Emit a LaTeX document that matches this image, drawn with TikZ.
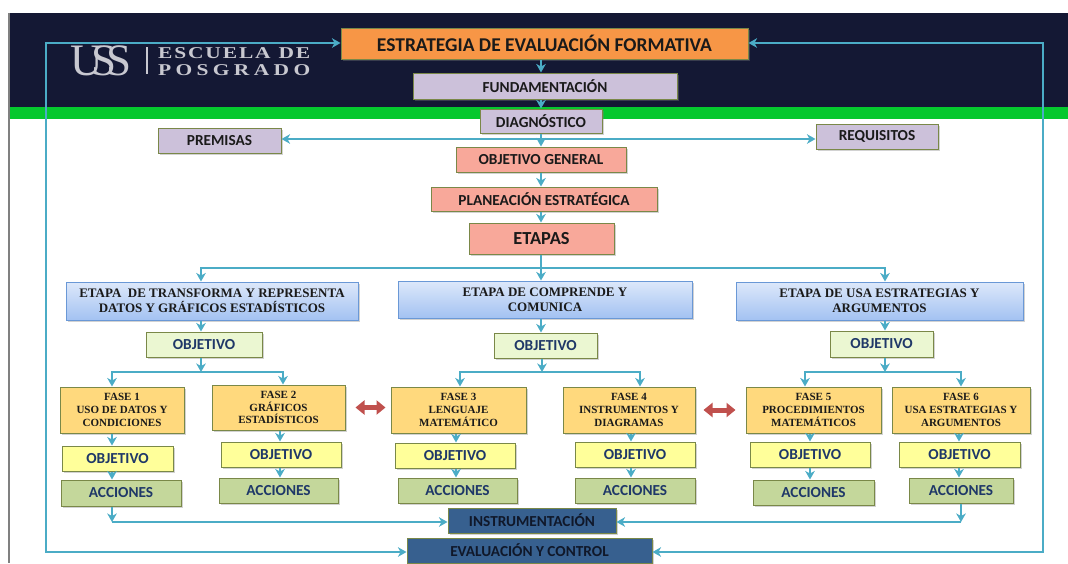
\documentclass[tikz,border=0pt]{standalone}
\usepackage{fontspec}
\setmainfont{Carlito}
\newfontfamily\timesfont{Liberation Serif}
\newfontfamily\logofont[FakeStretch=1.3]{Liberation Serif}
\usetikzlibrary{arrows.meta,shadows}

\definecolor{cNavy}{HTML}{141834}
\definecolor{cVerde}{HTML}{05C82E}
\definecolor{cLogo}{HTML}{C8C8D0}
\definecolor{cFlecha}{HTML}{4BACC6}
\definecolor{cRojo}{HTML}{C0504D}
\definecolor{cBorde}{HTML}{7A8848}
\definecolor{cNaranja}{HTML}{F79646}
\definecolor{cLila}{HTML}{CCC1DA}
\definecolor{cSalmon}{HTML}{F8A89A}
\definecolor{cEtapaTop}{HTML}{DDE8FA}
\definecolor{cEtapaBot}{HTML}{A3C2F2}
\definecolor{cEtapaBorde}{HTML}{6A98D6}
\definecolor{cVerdeClaro}{HTML}{EBF7D2}
\definecolor{cFase}{HTML}{FFD97D}
\definecolor{cAmarillo}{HTML}{FFFF9A}
\definecolor{cAcc}{HTML}{C4D79B}
\definecolor{cCtrl}{HTML}{37608F}
\definecolor{cAzulTexto}{HTML}{1F3868}
\definecolor{cTexto}{HTML}{1A1A1A}
\definecolor{cTextoOsc}{HTML}{10182A}

\newcommand\sansb{\bfseries\fontsize{15.3}{17}\selectfont}
\newcommand\serifb{\timesfont\bfseries\fontsize{13}{15}\selectfont}
\newcommand\faseb{\timesfont\bfseries\fontsize{11}{12.6}\selectfont}
\newcommand\logob{\logofont\bfseries\fontsize{16.5}{16.5}\selectfont}

\begin{document}
\begin{tikzpicture}[
				x=1pt, y=-1pt,
				>={Stealth[length=8.5pt,width=9.5pt,inset=2.5pt]},
				wh/.style 2 args={minimum width=#1pt, minimum height=#2pt},
				logo/.style={anchor=base west, inner sep=0pt, text=cLogo},
				box/.style={draw=cBorde, line width=1pt, inner sep=0pt, align=center, font=\sansb, text=cTexto,
					drop shadow={shadow xshift=1.5pt, shadow yshift=-1.5pt, opacity=.35}},
				naranja/.style={box, fill=cNaranja},
				lila/.style={box, fill=cLila},
				salmon/.style={box, fill=cSalmon},
				etapa/.style={box, draw=cEtapaBorde, top color=cEtapaTop, bottom color=cEtapaBot, font=\serifb},
				obj/.style={box, fill=cVerdeClaro, text=cAzulTexto},
				fase/.style={box, fill=cFase, font=\faseb},
				objf/.style={box, fill=cAmarillo, text=cAzulTexto},
				acc/.style={box, fill=cAcc, text=cAzulTexto},
				ctrl/.style={box, fill=cCtrl, text=cTextoOsc},
				arr/.style={draw=cFlecha, line width=2.4pt, ->},
				arrs/.style={draw=cFlecha, line width=2.4pt, <->},
				dbl/.style={draw=cRojo, line width=5pt, {Triangle[length=9pt,width=14pt]}-{Triangle[length=9pt,width=14pt]}}
				]
			\useasboundingbox (0,0) rectangle (1068,563);
			\fill[white] (0,0) rectangle (1068,563);
			\fill[cNavy] (8,13) rectangle (1068,107);
			\fill[cVerde] (8,107) rectangle (1068,119);
			\draw[gray, line width=2pt] (9,13) -- (9,563);

			\node[logo, font=\timesfont\fontsize{45}{45}\selectfont] (uss) at (70,75) {U\kern-11pt S\kern-10pt S};
			\draw[cLogo, line width=1.2pt] (147,47) -- (147,74);
			\node[logo, font=\logob] (escuela) at (158,58) {\makebox[152pt][s]{E\hfil S\hfil C\hfil U\hfil E\hfil L\hfil A\hskip 6pt plus 1fil D\hfil E}};
			\node[logo, font=\logob] (posgrado) at (158,75) {\makebox[152pt][s]{P\hfil O\hfil S\hfil G\hfil R\hfil A\hfil D\hfil O}};

			\node[naranja, wh={407}{31}, font=\bfseries\fontsize{19.5}{22}\selectfont] (estr) at (544.5,43.5) {ESTRATEGIA DE EVALUACIÓN FORMATIVA};
			\node[lila, wh={264}{26}] (fund) at (545,86) {FUNDAMENTACIÓN};
			\node[lila, wh={122}{24}] (diag) at (541,121) {DIAGNÓSTICO};
			\node[lila, wh={123}{25}] (prem) at (219.5,140.5) {PREMISAS};
			\node[lila, wh={122}{25}] (req) at (877,136.5) {REQUISITOS};
			\node[salmon, wh={170}{25}] (og) at (541,159.5) {OBJETIVO GENERAL};
			\node[salmon, wh={226}{24}] (plan) at (544,199) {PLANEACIÓN ESTRATÉGICA};
			\node[salmon, wh={145}{31}, font=\bfseries\fontsize{18.4}{20}\selectfont] (etapas) at (541.5,238.5) {ETAPAS};

			\node[etapa, wh={292}{38}] (e1) at (212,301) {ETAPA\ \ DE TRANSFORMA Y REPRESENTA\\DATOS Y GRÁFICOS ESTADÍSTICOS};
			\node[etapa, wh={294}{37}] (e2) at (545,299.5) {ETAPA DE COMPRENDE Y\\COMUNICA};
			\node[etapa, wh={287}{38}] (e3) at (879.5,301) {ETAPA DE USA ESTRATEGIAS Y\\ARGUMENTOS};

			\node[obj, wh={116}{25}] (o1) at (204,344.5) {OBJETIVO};
			\node[obj, wh={103}{25}] (o2) at (545.5,345.5) {OBJETIVO};
			\node[obj, wh={103}{26}] (o3) at (881.5,344) {OBJETIVO};

			\node[fase, wh={124}{46}] (f1) at (122,410) {FASE 1\\USO DE DATOS Y\\CONDICIONES};
			\node[fase, wh={133}{45}] (f2) at (278.5,407.5) {FASE 2\\GRÁFICOS\\ESTADÍSTICOS};
			\node[fase, wh={135}{46}] (f3) at (458.5,410) {FASE 3\\LENGUAJE\\MATEMÁTICO};
			\node[fase, wh={132}{46}] (f4) at (629,410) {FASE 4\\INSTRUMENTOS Y\\DIAGRAMAS};
			\node[fase, wh={135}{46}] (f5) at (813.5,410) {FASE 5\\PROCEDIMIENTOS\\MATEMÁTICOS};
			\node[fase, wh={138}{46}] (f6) at (961,410) {FASE 6\\USA ESTRATEGIAS Y\\ARGUMENTOS};

			\node[objf, wh={111}{25}] (y1) at (117.5,458.5) {OBJETIVO};
			\node[objf, wh={120}{25}] (y2) at (281,454.5) {OBJETIVO};
			\node[objf, wh={120}{25}] (y3) at (455,455.5) {OBJETIVO};
			\node[objf, wh={120}{25}] (y4) at (635,454.5) {OBJETIVO};
			\node[objf, wh={120}{25}] (y5) at (810,454.5) {OBJETIVO};
			\node[objf, wh={121}{25}] (y6) at (959.5,454.5) {OBJETIVO};

			\node[acc, wh={120}{26}] (a1) at (121,493) {ACCIONES};
			\node[acc, wh={119}{25}] (a2) at (278.5,490.5) {ACCIONES};
			\node[acc, wh={119}{25}] (a3) at (457.5,490.5) {ACCIONES};
			\node[acc, wh={120}{25}] (a4) at (635,490.5) {ACCIONES};
			\node[acc, wh={121}{25}] (a5) at (813.5,492.5) {ACCIONES};
			\node[acc, wh={104}{25}] (a6) at (961,490.5) {ACCIONES};

			\node[ctrl, wh={168}{25}] (instr) at (532,520.5) {INSTRUMENTACIÓN};
			\node[ctrl, wh={245}{25}] (eval) at (529.5,550.5) {EVALUACIÓN Y CONTROL};

			\draw[arr] (estr.south -| diag) -- (fund.north -| diag);
			\draw[arr] (fund.south -| diag) -- (diag.north);
			\draw[arr] (diag.south) -- (og.north);
			\draw[arr] (og.south) -- (plan.north -| og);
			\draw[arr] (plan.south -| og) -- (etapas.north -| og);

			\coordinate (hub) at (541,139);
			\draw[arr] (hub) -- (hub -| prem.east);
			\draw[arr] (hub) -- (hub -| req.west);

			\coordinate (bus) at (541,268);
			\coordinate (b1) at (201,268);
			\coordinate (b3) at (885,268);
			\draw[arr] (etapas.south -| bus) -- (e2.north -| bus);
			\draw[arr] (bus) -- (b1) -- (e1.north -| b1);
			\draw[arr] (bus) -- (b3) -- (e3.north -| b3);

			\draw[arr] (e1.south -| b1) -- (o1.north -| b1);
			\draw[arr] (e2.south -| bus) -- (o2.north -| bus);
			\draw[arr] (e3.south -| b3) -- (o3.north -| b3);

			\coordinate (s1) at (201,372);
			\coordinate (s2) at (542,372);
			\coordinate (s3) at (885,372);
			\draw[arr] (o1.south -| s1) -- (s1);
			\draw[arr] (o2.south -| s2) -- (s2);
			\draw[arr] (o3.south -| s3) -- (s3);

			\foreach \n/\top/\down/\s in {1/112/112/s1, 2/283/280/s1, 3/460/456/s2, 4/640/631/s2, 5/805/810/s3, 6/961/959/s3} {
				\coordinate (t\n) at (\top,0);
				\coordinate (d\n) at (\down,0);
				\draw[arr] (\s) -| (f\n.north -| t\n);
				\draw[arr] (f\n.south -| d\n) -- (y\n.north -| d\n);
				\draw[arr] (y\n.south -| d\n) -- (a\n.north -| d\n);
			}

			\draw[dbl, shorten <=10pt, shorten >=5pt] (f2.east) -- (f2.east -| f3.west);
			\draw[dbl, shorten <=8pt, shorten >=10pt] (f4.east) -- (f4.east -| f5.west);

			\coordinate (i1) at (112,522);
			\coordinate (i6) at (961,522);
			\draw[arr] (a1.south -| i1) -- (i1);
			\draw[arr] (i1) -- (i1 -| instr.west);
			\draw[arr] (a6.south -| i6) -- (i6);
			\draw[arr] (i6) -- (i6 -| instr.east);

			\coordinate (lt) at (46,43);
			\coordinate (lb) at (46,552);
			\coordinate (rt) at (1043,43);
			\coordinate (rb) at (1043,552);
			\draw[arrs] (lt -| estr.west) -- (lt) -- (lb) -- (lb -| eval.west);
			\draw[arrs] (rt -| estr.east) -- (rt) -- (rb) -- (rb -| eval.east);
			\end{tikzpicture}
\end{document}
